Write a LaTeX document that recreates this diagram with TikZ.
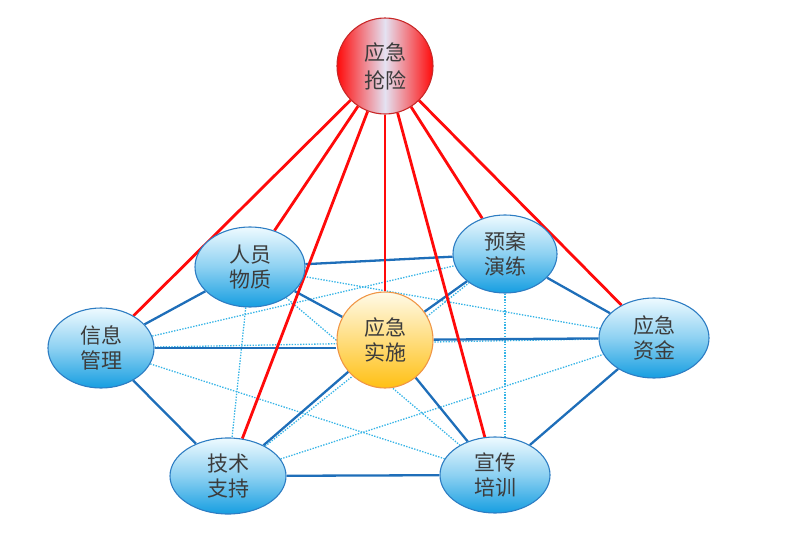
\documentclass[tikz,border=0pt]{standalone}
\usepackage{fontspec}
\newfontfamily\cjk{Noto Sans CJK SC}
\usetikzlibrary{shapes.geometric}
\pgfdeclarelayer{background}
\pgfsetlayers{background,main}
\definecolor{blueline}{RGB}{30,110,185}
\definecolor{dotline}{RGB}{55,180,230}
\definecolor{redline}{RGB}{255,10,10}
\definecolor{bluetop}{RGB}{238,250,255}
\definecolor{bluebot}{RGB}{22,158,225}
\definecolor{blueedge}{RGB}{45,125,195}
\definecolor{orangetop}{RGB}{255,250,232}
\definecolor{orangebot}{RGB}{255,192,20}
\definecolor{orangeedge}{RGB}{240,150,70}
\definecolor{redmid}{RGB}{228,226,242}
\definecolor{rededge}{RGB}{200,40,40}
\definecolor{txt}{RGB}{60,60,60}
\begin{document}
\begin{tikzpicture}[x=1pt,y=-1pt,
  lbl/.style={align=center,inner sep=0pt,text=txt,font=\cjk\fontsize{21}{25}\selectfont},
  bnode/.style={lbl,ellipse,draw=blueedge,line width=1.1pt,top color=bluetop,bottom color=bluebot,middle color=bluetop!55!bluebot},
  onode/.style={lbl,circle,draw=orangeedge,line width=1.1pt,top color=orangetop,bottom color=orangebot,minimum size=96pt},
  rnode/.style={lbl,circle,draw=rededge,line width=1.1pt,left color=redline,right color=redline,middle color=redmid,minimum size=96pt,font=\cjk\fontsize{21}{28}\selectfont},
  solidedge/.style={draw=blueline,line width=2.3pt},
  dotedge/.style={draw=dotline,line width=1.3pt,dash pattern=on 1.4pt off 1.4pt},
  rededgeline/.style={draw=redline,line width=2.8pt}
]
\useasboundingbox (0,0) rectangle (807,533);

\node[rnode] (top) at (385,66) {应急\\抢险};
\node[bnode,minimum width=110pt,minimum height=80pt] (ry) at (250,267) {人员\\物质};
\node[bnode,minimum width=104pt,minimum height=78pt] (ya) at (505,254) {预案\\演练};
\node[onode] (ss) at (385,340) {应急\\实施};
\node[bnode,minimum width=106pt,minimum height=80pt] (xx) at (101,348) {信息\\管理};
\node[bnode,minimum width=110pt,minimum height=80pt] (zj) at (654,338) {应急\\资金};
\node[bnode,minimum width=116pt,minimum height=76pt] (js) at (228,476) {技术\\支持};
\node[bnode,minimum width=110pt,minimum height=76pt] (xc) at (495,475) {宣传\\培训};

\begin{pgfonlayer}{background}
  % dotted links
  \draw[dotedge] (ry) -- (js);
  \draw[dotedge] (ry) -- (xc);
  \draw[dotedge] (ry) -- (zj);
  \draw[dotedge] (xx) -- (ya);
  \draw[dotedge] (xx) -- (zj);
  \draw[dotedge] (xx) -- (xc);
  \draw[dotedge] (js) -- (ya);
  \draw[dotedge] (js) -- (zj);
  \draw[dotedge] (ya.south) -- (ya.south |- xc.north);
  % solid links
  \draw[solidedge] (ry) -- (ya);
  \draw[solidedge] (ry) -- (xx);
  \draw[solidedge] (ry) -- (ss);
  \draw[solidedge] (ya) -- (ss);
  \draw[solidedge] (ya) -- (zj);
  \draw[solidedge] (xx.east) -- (ss.west |- xx.east);
  \draw[solidedge] (ss) -- (zj);
  \draw[solidedge] (xx) -- (js);
  \draw[solidedge] (js) -- (ss);
  \draw[solidedge] (js) -- (xc);
  \draw[solidedge] (ss) -- (xc);
  \draw[solidedge] (xc) -- (zj);
  % red links
  \draw[rededgeline] (top) -- (xx);
  \draw[rededgeline] (top) -- (ry);
  \draw[rededgeline] (top) -- (js);
  \draw[rededgeline] (top) -- (ss);
  \draw[rededgeline] (top) -- (xc);
  \draw[rededgeline] (top) -- (ya);
  \draw[rededgeline] (top) -- (zj);
\end{pgfonlayer}
\end{tikzpicture}
\end{document}
